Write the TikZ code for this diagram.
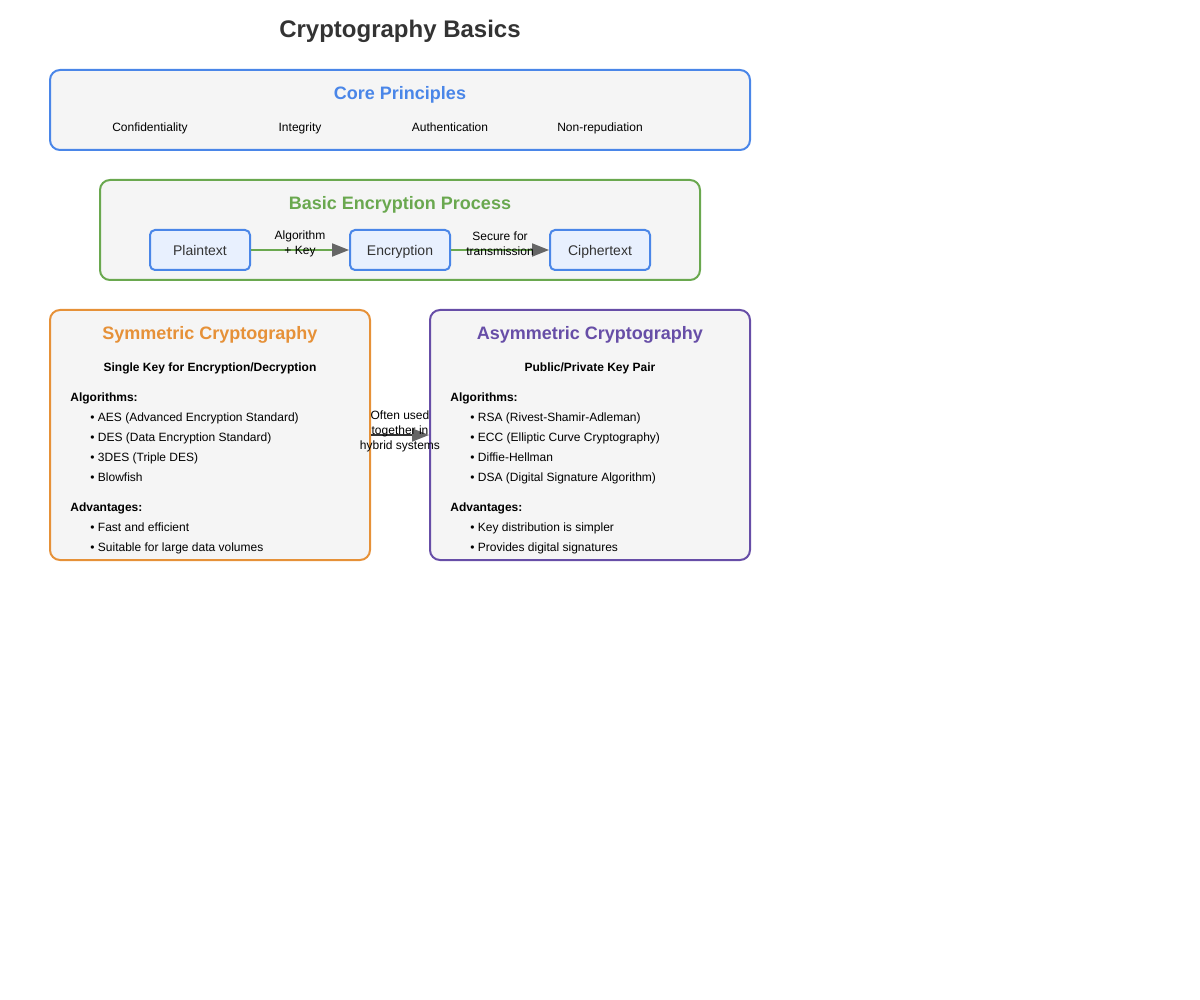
\documentclass[tikz,border=0pt]{standalone}
\usepackage{fontspec}
\setmainfont{Liberation Sans}
\usetikzlibrary{arrows.meta,positioning}
\definecolor{corecol}{HTML}{4A86E8}
\definecolor{proccol}{HTML}{6AA84F}
\definecolor{symcol}{HTML}{E69138}
\definecolor{asymcol}{HTML}{674EA7}
\definecolor{panelbg}{HTML}{F5F5F5}
\definecolor{stepbg}{HTML}{E8F0FE}
\definecolor{inkcol}{HTML}{333333}
\definecolor{tipcol}{HTML}{666666}
\tikzset{
    panel/.style={draw=#1, line width=1pt, fill=panelbg, rounded corners=5pt, inner sep=0pt},
    heading/.style={text=#1, inner sep=0pt, text height=0.72em, text depth=0.2em,
        font=\fontsize{9}{11}\selectfont\bfseries},
    stepbox/.style={draw=corecol, line width=1pt, fill=stepbg, rounded corners=2.5pt,
        minimum width=50pt, minimum height=20pt, inner sep=0pt,
        text height=0.72em, text depth=0.2em,
        font=\fontsize{7}{8}\selectfont, text=inkcol},
    small/.style={inner sep=0pt, text height=0.72em, text depth=0.2em,
        font=\fontsize{6}{7.5}\selectfont},
    multi/.style={inner sep=0pt, align=center, font=\fontsize{6}{7.5}\selectfont},
    item/.style={small, anchor=west},
    flow/.style={draw=#1, line width=1pt, -{Triangle[length=8.5pt, width=6.5pt, color=tipcol]}}
}
\begin{document}
\begin{tikzpicture}[x=0.5pt, y=-0.5pt]
    \useasboundingbox (0,0) rectangle (1200,1000);
    \node[inner sep=0pt, text height=0.72em, text depth=0.2em, text=inkcol,
        font=\fontsize{12}{14}\selectfont\bfseries] (title) at (400,32) {Cryptography Basics};

    % core principles
    \node[panel=corecol, minimum width=350pt, minimum height=40pt] (core) at (400,110) {};
    \node[heading=corecol] (corehead) at (400,94) {Core Principles};
    \foreach \txt [count=\i] in {Confidentiality, Integrity, Authentication, Non-repudiation}
        \node[small] (prin\i) at (150*\i,126) {\txt};

    % encryption process
    \node[panel=proccol, minimum width=300pt, minimum height=50pt] (proc) at (400,230) {};
    \node[heading=proccol] (prochead) at (400,204) {Basic Encryption Process};
    \node[stepbox] (plain) at (200,250) {Plaintext};
    \node[stepbox] (encr) at (400,250) {Encryption};
    \node[stepbox] (ciph) at (600,250) {Ciphertext};
    \draw[flow=proccol] (plain.east) -- (encr.west);
    \draw[flow=proccol] (encr.east) -- (ciph.west);
    \node[multi] (keylab) at (300,244) {Algorithm\\+ Key};
    \node[multi] (sendlab) at (500,244) {Secure for\\transmission};

    % symmetric
    \node[panel=symcol, minimum width=160pt, minimum height=125pt] (sym) at (210,435) {};
    \node[heading=symcol] (symhead) at (210,334) {Symmetric Cryptography};
    \node[small, font=\fontsize{6}{7.5}\selectfont\bfseries] (symsub) at (210,366) {Single Key for Encryption/Decryption};
    \node[item, font=\fontsize{6}{7.5}\selectfont\bfseries] (symalg) at (70,396) {Algorithms:};
    \foreach \txt [count=\i] in {AES (Advanced Encryption Standard), DES (Data Encryption Standard), 3DES (Triple DES), Blowfish}
        \node[item] (symalg\i) at (90,396+20*\i) {• \txt};
    \node[item, font=\fontsize{6}{7.5}\selectfont\bfseries] (symadv) at (70,506) {Advantages:};
    \foreach \txt [count=\i] in {Fast and efficient, Suitable for large data volumes}
        \node[item] (symadv\i) at (90,506+20*\i) {• \txt};

    % asymmetric
    \node[panel=asymcol, minimum width=160pt, minimum height=125pt] (asym) at (590,435) {};
    \node[heading=asymcol] (asymhead) at (590,334) {Asymmetric Cryptography};
    \node[small, font=\fontsize{6}{7.5}\selectfont\bfseries] (asymsub) at (590,366) {Public/Private Key Pair};
    \node[item, font=\fontsize{6}{7.5}\selectfont\bfseries] (asymalg) at (450,396) {Algorithms:};
    \foreach \txt [count=\i] in {RSA (Rivest-Shamir-Adleman), ECC (Elliptic Curve Cryptography), Diffie-Hellman, DSA (Digital Signature Algorithm)}
        \node[item] (asymalg\i) at (470,396+20*\i) {• \txt};
    \node[item, font=\fontsize{6}{7.5}\selectfont\bfseries] (asymadv) at (450,506) {Advantages:};
    \foreach \txt [count=\i] in {Key distribution is simpler, Provides digital signatures}
        \node[item] (asymadv\i) at (470,506+20*\i) {• \txt};

    % hybrid link
    \draw[flow=inkcol] (sym.east) -- (asym.west);
    \node[multi] (hyblab) at (400,431.5) {Often used\\together in\\hybrid systems};
\end{tikzpicture}
\end{document}
